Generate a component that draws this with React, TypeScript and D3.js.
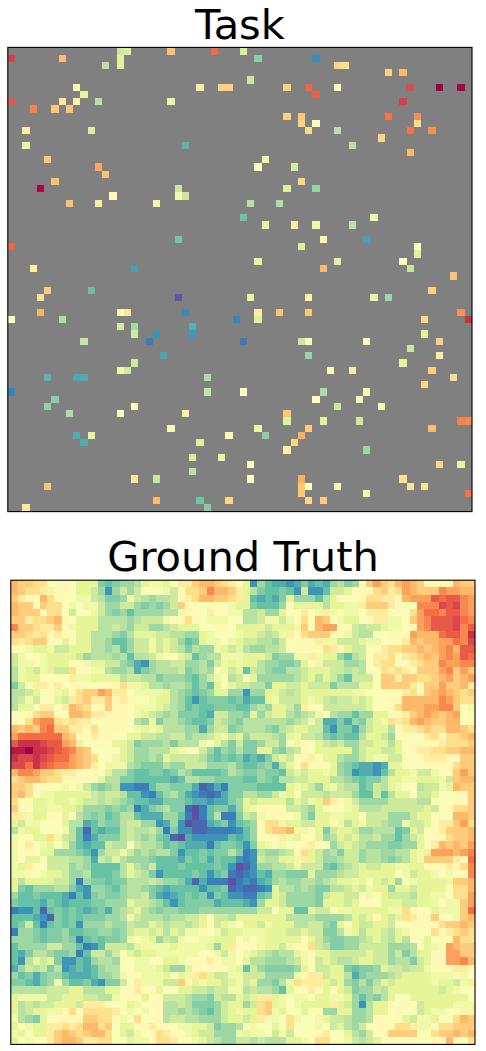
import React from "react";
import * as d3 from "d3";

const width = 486;
const height = 1051;
const gridSize = 64;

// [column, row, value] of the cells that are known, the rest stays grey
const taskPoints: [number, number, number][] = [
  [15,0,.35],[16,0,.38],[22,0,.66],[28,0,.81],[32,0,.38],
  [0,1,.9],[7,1,.67],[15,1,.39],[34,1,.25],[42,1,.11],
  [13,2,.32],[15,2,.39],[45,2,.62],[46,2,.6],
  [52,3,.63],[54,3,.68],[33,4,.35],
  [9,5,.46],[26,5,.56],[29,5,.63],[30,5,.63],[38,5,.63],[41,5,.82],[45,5,.5],[55,5,.87],[59,5,1],[62,5,.99],
  [10,6,.4],[42,6,.83],
  [0,7,.85],[7,7,.57],[9,7,.54],[12,7,.32],[22,7,.43],[54,7,.9],
  [3,8,.77],[6,8,.65],[8,8,.66],
  [38,9,.63],[40,9,.65],[52,9,.79],[56,9,.75],
  [40,10,.63],[42,10,.51],[56,10,.6],
  [2,11,.55],[11,11,.38],[41,11,.61],[45,11,.32],[55,11,.79],[58,11,.74],
  [51,12,.62],
  [2,13,.42],[24,13,.18],[47,13,.32],
  [55,14,.68],
  [5,15,.65],[35,15,.44],
  [12,16,.71],[34,16,.5],[39,16,.37],
  [13,17,.66],
  [6,18,.66],[40,18,.62],
  [4,19,.99],[23,19,.35],[38,19,.38],[42,19,.27],
  [14,20,.52],[23,20,.45],[24,20,.35],
  [8,21,.66],[12,21,.56],[20,21,.45],[33,21,.32],[37,21,.31],
  [32,23,.21],[50,23,.43],
  [35,24,.41],[39,24,.56],[42,24,.44],[47,24,.33],
  [23,26,.22],[43,26,.53],[49,26,.14],
  [0,27,.82],[40,27,.38],[56,27,.48],
  [56,28,.39],
  [34,29,.42],[45,29,.39],[54,29,.49],
  [3,30,.55],[17,30,.14],[43,30,.68],[55,30,.34],
  [61,31,.66],
  [5,33,.64],[11,33,.2],[58,33,.63],
  [4,34,.6],[23,34,.01],[33,34,.41],[41,34,.54],[50,34,.41],[52,34,.28],
  [4,36,.69],[15,36,.46],[16,36,.57],[24,36,.11],[34,36,.55],[37,36,.66],[41,36,.65],[62,36,.74],
  [0,37,.5],[7,37,.31],[31,37,.1],[34,37,.39],[57,37,.62],[63,37,.92],
  [15,38,.37],[17,38,.29],[25,38,.17],
  [17,39,.36],[20,39,.12],[25,39,.13],[57,39,.4],
  [10,40,.34],[19,40,.08],[32,40,.07],[40,40,.35],[41,40,.46],[49,40,.48],[59,40,.63],
  [55,41,.35],
  [21,42,.15],[41,42,.27],[59,42,.55],
  [17,43,.36],[54,43,.4],
  [15,44,.44],[16,44,.36],[44,44,.51],[47,44,.56],[58,44,.64],
  [5,45,.18],[9,45,.15],[10,45,.16],[27,45,.3],[61,45,.61],
  [57,46,.62],
  [0,47,.09],[27,47,.34],[32,47,.5],[43,47,.3],[49,47,.48],
  [6,48,.25],[42,48,.49],[48,48,.47],
  [5,49,.26],[17,49,.5],[45,49,.35],[51,49,.46],
  [8,50,.3],[15,50,.5],[24,50,.55],[38,50,.65],
  [38,51,.39],[43,51,.39],[48,51,.36],[62,51,.77],[63,51,.76],
  [22,52,.46],[34,52,.43],[41,52,.64],[58,52,.67],
  [9,53,.16],[11,53,.41],[30,53,.52],[35,53,.25],[40,53,.7],
  [10,54,.16],[26,54,.39],[39,54,.62],
  [38,55,.55],[49,55,.28],
  [25,56,.38],[29,56,.41],
  [33,57,.5],[59,57,.62],[62,57,.41],
  [25,58,.32],
  [17,59,.59],[20,59,.34],[33,59,.5],[40,59,.7],[54,59,.6],
  [5,60,.66],[40,60,.65],[41,60,.49],[45,60,.47],[55,60,.59],[57,60,.59],
  [40,61,.65],[49,61,.45],[63,61,.79],
  [20,62,.68],[26,62,.21],[30,62,.62],[41,62,.62],[43,62,.64],
  [2,63,.57],[27,63,.24],
];

// a = 0 ... z = 1, one letter per cell
const truthLevels = "abcdefghijklmnopqrstuvwxyz";

const truthLeft = [
  "rqqppnmn mkkkgfgh hikllkmo oqrrqpon",
  "rqppolnn mkkjhdhj hjmmmljn ppqtrrqo",
  "qonnrpnm mlljiggh ljihiijn oprrqqpo",
  "rqqnqppm lmlljhhj jhghghjq nmmnnmlk",
  "rqqqnppm jmmljhgh fhhhhiil nmmomnll",
  "qqoppqrn mkkkiiii hijjjlnn pnmlllmm",
  "tqqpooqn lkkkiiji hjjhhijk kkmmnnmk",
  "qqpopnon mkkiiihg ikkkjjii hhklmmml",
  "popqqnmk mkkiihff hjjljkjh fgkllmlk",
  "nnlkkljj kkkiihif hjjljkji gihhlkjk",
  "jlmnlkkk kjhiiihi fiijlnmk jfhiilll",
  "jllnlkkk mnlkkjjh gedhiijj hhigjlkl",
  "ilkjlkjj pnmllihh ieghiiij ghihmljk",
  "ilkkmmmm ollkkkki jjiighhh gfhjlmij",
  "gjmoonom nnmmmnnp llkiihii hfhfkmkj",
  "iijkmnlk npqqsroo mllllkih gfghkkhh",
  "ijljmnkj opqooqno nmmlkkih fdfgggfg",
  "ikkmoomo rqpnnqnn nlllkjih fgffgggf",
  "mmnpqqnm rrqoonnn mlkjihig ggfejjhh",
  "nmpsttpo poonmnnn mihlgiih gffgjihg",
  "rqrqtuqq oonpnnnn mlklkiii hhehjjgh",
  "suuuuuur qnnonnmm kkjjiijj hiijkljk",
  "vxxxwvvs romnnmkk jghhhigi iilmkigj",
  "yyzxxwvu trqmmmnk jhhiiikl mmjhfhgi",
  "xwwxwvuu srqpmmlk jhhihkjj jjigfgfg",
  "wwuxvutt srqomlll ihgggihh jjjhhhig",
  "rttsqqpo onmnnkii gffggfgi hffffgih",
  "pqrrqppn nnnmkiig gfffffef iihhgggg",
  "qqpnnmml mljhghid dccfhhgg gebcecgg",
  "qrpmllkk kkkjijji ffdcfhig edcbcegg",
  "pmnkklkk lkjjijih gffeeggg feedeegh",
  "qnmkkllk kjhhhghg hceghigg bacfggeh",
  "oolkknnk mihghfgi ifeeehhf cacficcg",
  "kjllmmmk iiefhggi jjhhdehd abbefgdf",
  "ilkkmmml ifbfeffi jiijhcgd dbbccccd",
  "lnnkkplj ifcegggi jihigfba edddddfe",
  "lmomlkmk hfeffjii mjiihfgf eeecfggf",
  "lnnmkkhh hgfdhjjl jhihiigd ffgfggig",
  "lmkkmjjj iihejiki hhhgfffe gfgegffd",
  "lkonmjjj hihffffi kihjfffg ffffgfda",
  "llnnlkkj hhifffgi kjigdfff fgfdfgcb",
  "kikkkkjj hchggfgg iiijihhg ebecccac",
  "kgfhhhii gedhhgfh iihgfeff ffdffgbc",
  "hffgfffe cfdghggh iijgedef gfgdgfdd",
  "gfffegfe fffgghhh kjjihfdf ggggefff",
  "cddfbfgf gfefgehi jkihghhg gghhhhhh",
  "fffedbgf gfggghhi ljiiihii jjknjjik",
  "fgjfcfgf gdhhhihh jiikjijj ijknjklm",
  "chhgfggh ffgghhgh jkkjkikj llnmljkk",
  "hhhgfggh gcfgfggh lmlkhjil mmllkkkm",
  "fhhhhjjh hfcdfjjj ikllllkl lllkhkon",
  "fegiihgg hcfjjhjm kjkkllll llmmljlm",
  "fdikjkgd dfehiihm mllmnkkl mnnonllm",
  "ehjijgid efefhiin mlllkjhh kmnnnmlk",
  "hfgeghhf eeefhhil mnlllkmk lopkjjll",
  "ggfeghlh ffgedggj mollljjq nklkkjkl",
  "iiiiijjj kkiiikkm nonnkmmk kjjijjll",
  "klllljjk kkjjiilm nnkmnjjj ihhgjiik",
  "kijijjkk kjooonmm klmnniij iggghjkk",
  "kijkklln pnppppom lmlmniih ihgfhjkl",
  "lihgknnn nnqqppnl mpmmnijj iihhhjkk",
  "kmlkkoop oprrpqmk kmnonnml lkkjghhi",
  "lkmkkoqr qpqrrpmk jlmnponm lkjjhhhl",
  "kmlnnoqr rqooppmm kllnppom nlkjihhj",
];

const truthRight = [
  "kdhfeede gefehigh nqsqprsr qnnnnrqq",
  "kigffgfd jddfjjkm nnpqopsr qqqtssrr",
  "kfefegkh hhfikmmm nppoonrs ssvuvvts",
  "kgfffhmk kkkikkll oqqqonnm tttwvwts",
  "iijhhkmn omlolmll mooonnmp suutvvts",
  "iijlljlm pmrqnlkk mnoollnq stvvvwut",
  "kkkjkkkl qmrssnnj ijjkllmn stvvvwtv",
  "kkjijlon pqqqnnlj iimmnnns rrruvvtx",
  "jjiihjmm nnolljjj kllmnnor qrrssutw",
  "ihhiijmn nnnponkj jmnoppqq rqrstrvv",
  "kkkjghhl lolkkhfi jmoopnop qrqstsvu",
  "kkihhggh knljjjhh imoppmno pqqtsstt",
  "fjihggii jkkkjjij immpopon qqqstqsq",
  "mkhhhhhi jkikjhfj jjmqqoqq ppqrsqrs",
  "jiigkkjj kjjjgiii kkmqqqqo nqqsqqro",
  "dhhkkjij kkkkkkkl lmmnnmop nqrsrqpq",
  "effkljjj klkjijjk jkmmnnrr rrrtsqpp",
  "fhihkkjh onmjjjjj jkmmnprr rssttqnl",
  "gkhjkkih ijlmihhf hhkkmnoq rsrqrsmn",
  "iiiiiihi jljeegeh gjklpopr srqqrrmn",
  "iiihgijk kjjfdgge hjkkinoo pqpprrqp",
  "hjjjihkl jjigfgff ikkjhmnm mopnppqr",
  "gghjjhml nmkjijhh jjkkikmn nnnopppq",
  "ggkkhgij nmkkkkkh jkkjjkmn ooppqqrr",
  "efegjkjm nonkkihh jklljjnm nooonnqq",
  "ffgheikm pnnmkhgf eedekkmm mnnnnpqq",
  "gghggfjk jkklkhgd eedfikkl jjlmnqsq",
  "ffhgfiij jkkkiihg fggikkll kkkljqrr",
  "ggffffkl kjhkljii fgjiklmm ijjlkrqq",
  "iihhjlkm jjjijjjh ffjfikkm jjkmmmnq",
  "kjkkkkik jlkqonlj hhhhjjjj iimmmnnq",
  "klnnnnjj ihkmnmlk iiijjjjj jkjmnppq",
  "jilmnnml igkkllkk mjjjhhhj kkmmmrrq",
  "ghnpplkk jjkknlik ljjihhlj jkmooqsp",
  "fhnpqqrl lnkgjkkj hhiiifgk jmnoqqqr",
  "fhmnnolk nmkhikjk iijhhfhj kmnnpqqr",
  "dgklmlmn nommhjkj ihhhgghh kmorqrqs",
  "cdihhijn pkjhigjj hiihhiik losssrst",
  "cdjiikkl okjhhijj hiihghik lqqqqonu",
  "bdhhiijl jjjgfhij kjjkkllk kmnnonpt",
  "cdfehhgg gkhhhijj kkkkkmlj kklmlmmt",
  "dcefhihh iihijkkl kmkjkhml kkkklqqr",
  "bbcdkiih ihggiijk jlkkhkkj kkkkmppr",
  "ccfgkjhh hhgjkkjj mlmkjjji kkllmpps",
  "edhkkjhh hhgkkkjk mnmkkkjj kklnllqs",
  "hhjjmkkf fkjjmllk kkkkllpn mmklllqu",
  "kkkkkkii iihhhhik jknkjkpo nnqmmlqr",
  "kkjlkkki ijjhgkmk jjkkjmmn nmnpqqrq",
  "lllkkkjj kjjggilk ikkjikln mnpnopqp",
  "lmlkkkkk nkjhgghh ijkjikin mkmnmrpp",
  "nnlkkjln npjigghh jjjjhhhi mklnsrqq",
  "lkjihiik lnkkjjjj jkjjhjgi kknnssqq",
  "kiihhhij lnjkjiij kkjjhiig jkmnsstr",
  "fjhggggh kmjjkkgf gghkjjij jlnnnoon",
  "jjjhhhhl noojkkie ghhhijkk kklllmlm",
  "jkhhgilp oookjkhg igikjkkk kklkkjlo",
  "ijiihfkm nonkmkjg hhjikkkk kkkjklmm",
  "jkooklml lmkkllkh fhgikmmk kkkkkkkm",
  "hjpqklml kkkkokjh dikknmnm jkkkklll",
  "kkpqlkmm knnhhkkh hikkmnmm jkllmmll",
  "jkonlmpl mmlkjjih hinmmnkj llkmmprq",
  "mlmmkmpm mmlmjkih jmnnnppo llnppqqq",
  "kllmjljm mmnommki hjmnqqqq nmpqqrqr",
  "jijiiikk lmppmnlj ijkmnmnn mmnnrnmp",
];

const truthCells: [number, number, number][] = truthLeft.flatMap((left, row) =>
  (left + truthRight[row])
    .replace(/ /g, "")
    .split("")
    .map((ch, col): [number, number, number] => [col, row, truthLevels.indexOf(ch) / 25])
);

// Spectral reversed, with straight segments between the stops
const spectralStops = [...d3.schemeSpectral[11]].reverse();
const color = d3
  .scaleLinear<string>()
  .domain(spectralStops.map((_, i) => i / 10))
  .range(spectralStops)
  .interpolate(d3.interpolateRgb);

const grid = d3.range(gridSize);

const Panel = ({ title, left, top, size, titleX, titleY, cells, background }: any) => {
  const x = d3.scaleBand<number>().domain(grid).range([left, left + size]);
  const y = d3.scaleBand<number>().domain(grid).range([top, top + size]);

  return (
    <g>
      <text
        x={titleX}
        y={titleY}
        textAnchor="middle"
        fontFamily="DejaVu Sans"
        fontSize={41.6}
        fill="#000"
      >
        {title}
      </text>
      <rect x={left} y={top} width={size} height={size} fill={background} />
      <g shapeRendering="crispEdges">
        {cells.map(([col, row, value]: [number, number, number]) => (
          <rect
            key={`${col}-${row}`}
            x={x(col)}
            y={y(row)}
            width={x.bandwidth()}
            height={y.bandwidth()}
            fill={color(value)}
          />
        ))}
      </g>
      <rect
        x={left}
        y={top}
        width={size}
        height={size}
        fill="none"
        stroke="#000"
        strokeWidth={1.1}
      />
    </g>
  );
};

export default function App() {
  return (
    <svg
      width={width}
      height={height}
      style={{ position: "absolute", left: 0, top: 0, display: "block" }}
    >
      <rect width={width} height={height} fill="#fff" />
      <Panel
        title="Task"
        left={7.8}
        top={47.4}
        size={464.2}
        titleX={240}
        titleY={39.3}
        cells={taskPoints}
        background="#808080"
      />
      <Panel
        title="Ground Truth"
        left={10.8}
        top={580.2}
        size={464.2}
        titleX={243}
        titleY={571}
        cells={truthCells}
        background="#fff"
      />
    </svg>
  );
}
